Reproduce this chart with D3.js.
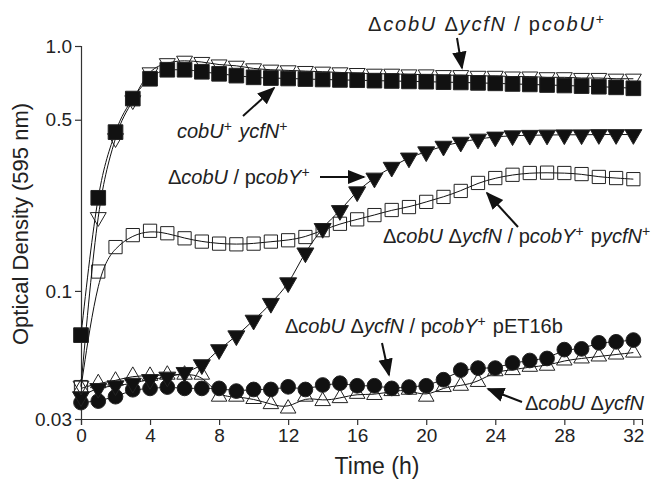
<!DOCTYPE html>
<html>
<head>
<meta charset="utf-8">
<script src="https://cdn.jsdelivr.net/npm/d3@7"></script>
<style>
  body { margin: 0; background: #fff; }
  svg { display: block; font-family: "Liberation Sans", Arial, sans-serif; }
</style>
</head>
<body>
<svg width="651" height="479"></svg>
<script>
// time points (h)
const hours = [0,1,2,3,4,5,6,7,8,9,10,11,12,13,14,15,16,17,18,19,20,21,22,23,24,25,26,27,28,29,30,31,32];

// OD595
const wildType = [0.066,0.24,0.445,0.61,0.735,0.80,0.80,0.785,0.77,0.757,0.745,0.74,0.737,0.733,0.73,0.727,0.725,0.722,0.72,0.717,0.715,0.712,0.71,0.707,0.704,0.70,0.697,0.693,0.69,0.686,0.682,0.678,0.672];
const pcobU = [0.041,0.20,0.42,0.60,0.78,0.85,0.87,0.86,0.84,0.83,0.81,0.80,0.795,0.79,0.785,0.78,0.775,0.77,0.77,0.765,0.765,0.76,0.76,0.755,0.755,0.75,0.75,0.745,0.745,0.74,0.74,0.735,0.735];
const pcobY = [0.037,0.040,0.041,0.042,0.0435,0.0445,0.0465,0.050,0.0576,0.0656,0.076,0.089,0.108,0.143,0.18,0.213,0.254,0.289,0.32,0.349,0.37,0.39,0.405,0.417,0.425,0.43,0.432,0.433,0.434,0.434,0.435,0.435,0.435];
const pcobYpycfN = [0.0405,0.12,0.151,0.169,0.176,0.172,0.164,0.159,0.156,0.155,0.156,0.159,0.161,0.166,0.177,0.188,0.196,0.204,0.214,0.22,0.231,0.242,0.256,0.276,0.289,0.298,0.303,0.304,0.303,0.30,0.292,0.289,0.286];
const pET16b = [0.035,0.0355,0.037,0.0395,0.040,0.0405,0.040,0.040,0.040,0.039,0.0396,0.0396,0.0406,0.0396,0.0413,0.042,0.041,0.041,0.040,0.0405,0.041,0.0434,0.0475,0.0484,0.0484,0.0508,0.052,0.053,0.0576,0.058,0.0614,0.062,0.063];
const doubleMutant = [0.040,0.042,0.043,0.045,0.045,0.0455,0.0455,0.0455,0.037,0.037,0.0362,0.0345,0.0331,0.037,0.0355,0.0365,0.038,0.0376,0.039,0.0395,0.037,0.0405,0.041,0.0425,0.047,0.0475,0.049,0.0495,0.052,0.053,0.054,0.055,0.056];

const xTicks = [0,4,8,12,16,20,24,28,32];
const yTicks = [0.03,0.1,0.5,1.0];
const yTickLabels = ["0.03","0.1","0.5","1.0"];

const svg = d3.select("svg");

const x = d3.scaleLinear().domain([0, 32.5]).range([81, 642]);
const y = d3.scaleLog().domain([0.03, 1]).range([419, 46]);

// axes
const xAxis = svg.append("g")
  .attr("transform", "translate(0,419)")
  .call(d3.axisBottom(x).tickValues(xTicks).tickSizeOuter(0).tickSize(6).tickPadding(4));
const yAxis = svg.append("g")
  .attr("transform", "translate(81,0)")
  .call(d3.axisLeft(y).tickValues(yTicks).tickFormat((d, i) => yTickLabels[i]).tickSizeOuter(0).tickSize(6).tickPadding(3));

[xAxis, yAxis].forEach(a => {
  a.selectAll("path, line").attr("stroke", "#333").attr("stroke-width", 1.2);
  a.selectAll("text").attr("fill", "#222").style("font-size", "19px").style("font-family", "Liberation Sans, Arial, sans-serif");
});

svg.append("text")
  .attr("x", 377).attr("y", 474)
  .attr("text-anchor", "middle")
  .style("font-size", "23px").attr("fill", "#222")
  .text("Time (h)");

svg.append("text")
  .attr("transform", "translate(28,224) rotate(-90)")
  .attr("text-anchor", "middle")
  .style("font-size", "22px").attr("fill", "#222")
  .text("Optical Density (595 nm)");

// series, drawn bottom-up
const series = [
  {vals: doubleMutant, sym: d3.symbolTriangle, size: 105, rot: 0, fill: "none", curve: d3.curveBasis},
  {vals: pET16b, sym: d3.symbolCircle, size: 170, rot: 0, fill: "#111", curve: d3.curveBasis},
  {vals: pcobYpycfN, sym: d3.symbolSquare, size: 175, rot: 0, fill: "none", curve: d3.curveBasis},
  {vals: pcobY, sym: d3.symbolTriangle, size: 125, rot: 180, fill: "#111", curve: d3.curveMonotoneX},
  {vals: pcobU, sym: d3.symbolTriangle, size: 110, rot: 180, fill: "none", curve: d3.curveMonotoneX},
  {vals: wildType, sym: d3.symbolSquare, size: 215, rot: 0, fill: "#111", curve: d3.curveMonotoneX}
];

const line = d3.line().x((d, i) => x(hours[i])).y(d => y(d));

series.forEach(s => {
  const g = svg.append("g");
  g.append("path")
    .attr("d", line.curve(s.curve)(s.vals))
    .attr("fill", "none")
    .attr("stroke", "#111")
    .attr("stroke-width", 1);
  g.selectAll("path.pt")
    .data(s.vals)
    .enter()
    .append("path")
    .attr("class", "pt")
    .attr("d", d3.symbol().type(s.sym).size(s.size))
    .attr("transform", (d, i) => "translate(" + x(hours[i]) + "," + y(d) + ") rotate(" + s.rot + ")")
    .attr("fill", s.fill)
    .attr("stroke", "#222")
    .attr("stroke-width", 1);
});

// annotations
svg.append("defs").append("marker")
  .attr("id", "arrow")
  .attr("viewBox", "0 0 10 10")
  .attr("refX", 9).attr("refY", 5)
  .attr("markerWidth", 9).attr("markerHeight", 9)
  .attr("orient", "auto")
  .append("path")
  .attr("d", "M0,1 L10,5 L0,9 Z")
  .attr("fill", "#111");

function label(px, py, parts, spacing) {
  const t = svg.append("text")
    .attr("x", px).attr("y", py)
    .style("font-size", "20px")
    .style("letter-spacing", (spacing || 0) + "px")
    .attr("fill", "#222");
  parts.forEach(p => {
    if (p.sup) {
      t.append("tspan").attr("dy", -7).style("font-size", "14px").text(p.t);
      t.append("tspan").attr("dy", 7).text("\u200a");
    } else {
      t.append("tspan").style("font-style", p.i ? "italic" : "normal").text(p.t);
    }
  });
}

function arrow(x1, y1, x2, y2) {
  svg.append("line")
    .attr("x1", x1).attr("y1", y1).attr("x2", x2).attr("y2", y2)
    .attr("stroke", "#111").attr("stroke-width", 2)
    .attr("marker-end", "url(#arrow)");
}

label(368, 31, [{t: "\u0394"}, {t: "cobU", i: 1}, {t: " \u0394"}, {t: "ycfN", i: 1}, {t: " / p"}, {t: "cobU", i: 1}, {t: "+", sup: 1}], 1.8);
arrow(457, 38, 462, 68);

label(177, 138, [{t: "cobU", i: 1}, {t: "+", sup: 1}, {t: " "}, {t: "ycfN", i: 1}, {t: "+", sup: 1}]);
arrow(243, 116, 274, 88);

label(168, 184, [{t: "\u0394"}, {t: "cobU", i: 1}, {t: " / p"}, {t: "cobY", i: 1}, {t: "+", sup: 1}]);
arrow(320, 177, 364, 177);

label(383, 243, [{t: "\u0394"}, {t: "cobU", i: 1}, {t: " \u0394"}, {t: "ycfN", i: 1}, {t: " / p"}, {t: "cobY", i: 1}, {t: "+", sup: 1}, {t: " p"}, {t: "ycfN", i: 1}, {t: "+", sup: 1}]);
arrow(518, 227, 487, 193);

label(285, 333, [{t: "\u0394"}, {t: "cobU", i: 1}, {t: " \u0394"}, {t: "ycfN", i: 1}, {t: " / p"}, {t: "cobY", i: 1}, {t: "+", sup: 1}, {t: " pET16b"}]);
arrow(382, 343, 389, 375);

label(525, 410, [{t: "\u0394"}, {t: "cobU", i: 1}, {t: " \u0394"}, {t: "ycfN", i: 1}]);
arrow(522, 402, 488, 389);
</script>
</body>
</html>
